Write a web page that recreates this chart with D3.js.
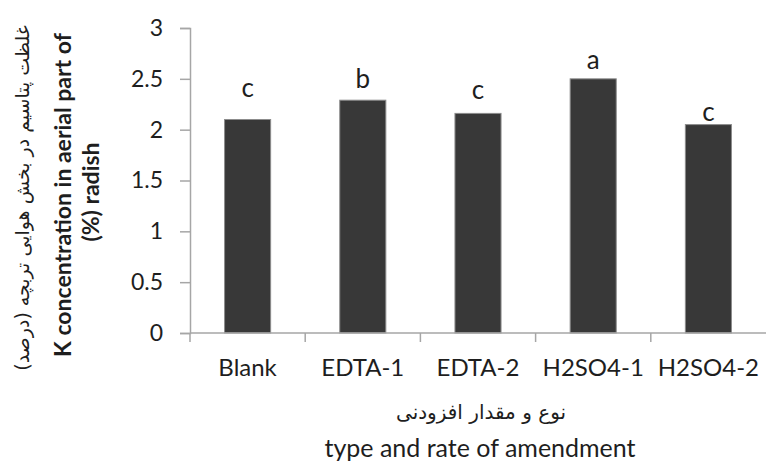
<!DOCTYPE html>
<html><head><meta charset="utf-8">
<script src="https://cdn.jsdelivr.net/npm/d3@7"></script>
<style>body{margin:0;background:#fff}svg{display:block}</style>
</head><body>
<script>
const categories = ["Blank","EDTA-1","EDTA-2","H2SO4-1","H2SO4-2"];
const values = [2.10, 2.29, 2.16, 2.50, 2.05];
const letters = ["c","b","c","a","c"];
const letterLevel = [2.32, 2.41, 2.30, 2.60, 2.09];
const yTicks = [0,0.5,1,1.5,2,2.5,3];
const yTitleFa = "غلظت پتاسیم در بخش هوایی تربچه (درصد)";
const yTitleEn1 = "K concentration in aerial part of";
const yTitleEn2 = "(%) radish";
const xTitleFa = "نوع و مقدار افزودنی";
const xTitleEn = "type and rate of amendment";

const W=766,H=466;
const svg=d3.select("body").append("svg").attr("width",W).attr("height",H);
const x0=190, x1=766;
const x=d3.scaleBand().domain(categories).range([x0,x1]).paddingInner(0.6).paddingOuter(0.3);
const y=d3.scaleLinear().domain([0,3]).range([333,28]);
const font="Lato, 'Open Sans', sans-serif";
const ink="#1e1e1e", axisCol="#a6a6a6";

// bars
svg.selectAll("rect.bar").data(values).join("rect").attr("class","bar")
  .attr("x",(d,i)=>x(categories[i])).attr("y",d=>y(d))
  .attr("width",x.bandwidth()).attr("height",d=>y(0)-y(d))
  .attr("fill","#383838").attr("stroke","#8c8c8c").attr("stroke-width",1);

// y axis
const ya=svg.append("g").attr("transform",`translate(${x0},0)`)
  .call(d3.axisLeft(y).tickValues(yTicks).tickSize(10).tickPadding(0).tickFormat(d=>String(d)));
ya.select(".domain").attr("stroke",axisCol).attr("stroke-width",1.5);
ya.selectAll(".tick line").attr("stroke",axisCol).attr("stroke-width",1.5);
ya.selectAll(".tick text").attr("font-family",font).attr("font-size",23).attr("fill",ink).attr("x",-27);

// x axis line and ticks at category boundaries
svg.append("line").attr("x1",x0).attr("x2",x1).attr("y1",y(0)).attr("y2",y(0))
  .attr("stroke",axisCol).attr("stroke-width",1.5);
svg.selectAll("line.xt").data(categories).join("line").attr("class","xt")
  .attr("x1",c=>x(c)+x.bandwidth()/2-x.step()/2).attr("x2",c=>x(c)+x.bandwidth()/2-x.step()/2)
  .attr("y1",y(0)).attr("y2",y(0)+9)
  .attr("stroke",axisCol).attr("stroke-width",1.5);

svg.selectAll("text.xl").data(categories).join("text").attr("class","xl")
  .attr("x",d=>x(d)+x.bandwidth()/2).attr("y",376)
  .attr("text-anchor","middle").attr("font-family",font).attr("font-size",24).attr("fill",ink)
  .text(d=>d);

// letters
svg.selectAll("text.lt").data(letterLevel).join("text").attr("class","lt")
  .attr("x",(d,i)=>x(categories[i])+x.bandwidth()/2).attr("y",d=>y(d))
  .attr("text-anchor","middle").attr("font-family",font).attr("font-size",26).attr("fill",ink)
  .text((d,i)=>letters[i]);

// x titles
svg.append("text").attr("x",481).attr("y",419).attr("text-anchor","middle")
  .attr("font-family","'DejaVu Sans', sans-serif").attr("font-size",20).attr("fill",ink)
  .attr("direction","rtl").text(xTitleFa);
svg.append("text").attr("x",480).attr("y",457).attr("text-anchor","middle")
  .attr("font-family",font).attr("font-size",25).attr("fill",ink)
  .text(xTitleEn);

// y titles
svg.append("text").attr("transform","translate(29,198) rotate(-90)").attr("text-anchor","middle")
  .attr("font-family","'DejaVu Sans', sans-serif").attr("font-size",19).attr("fill",ink)
  .attr("direction","rtl").text(yTitleFa);
svg.append("text").attr("transform","translate(71,195) rotate(-90)").attr("text-anchor","middle")
  .attr("font-family",font).attr("font-size",23).attr("font-weight","bold").attr("fill",ink)
  .text(yTitleEn1);
svg.append("text").attr("transform","translate(99,192) rotate(-90)").attr("text-anchor","middle")
  .attr("font-family",font).attr("font-size",23).attr("font-weight","bold").attr("fill",ink)
  .text(yTitleEn2);
</script>
</body></html>
